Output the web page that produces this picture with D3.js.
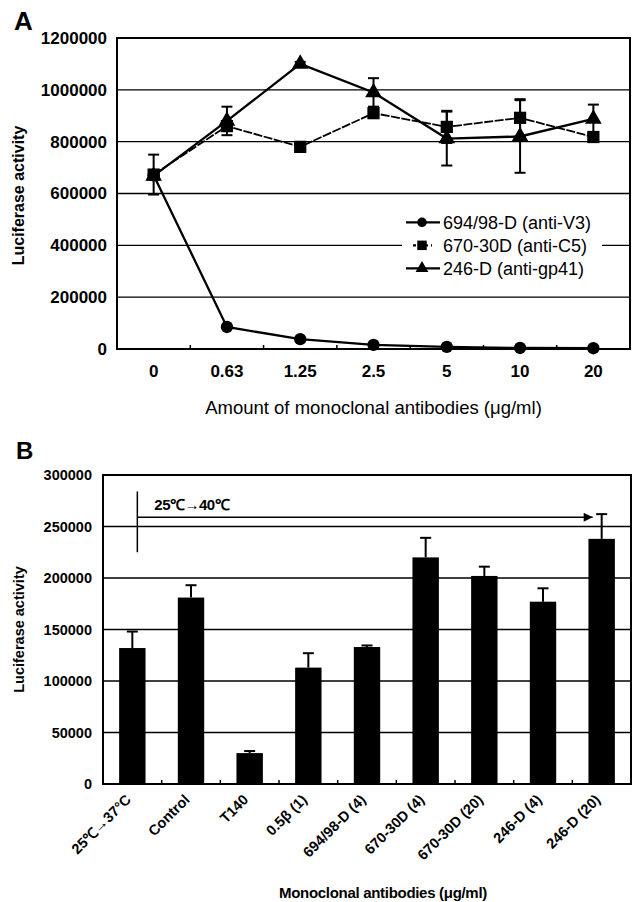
<!DOCTYPE html>
<html lang="en">
<head>
  <meta charset="UTF-8">
  <title>Luciferase activity</title>
  <script src="https://d3js.org/d3.v7.min.js"></script>
  <style>
    body {
      margin: 0;
      background: #fff;
    }
    svg text {
      font-family: 'Liberation Sans', Arial, sans-serif;
      fill: #000;
    }
    .tick-a text {
      font-size: 17px;
      font-weight: bold;
    }
    .tick-b text {
      font-size: 14.5px;
      font-weight: bold;
    }
    .grid {
      stroke: #000;
      stroke-width: 1.4;
    }
  </style>
</head>
<body>
  <svg id="chart" width="637" height="902"></svg>

  <script>
    // ---- Panel A : dose response ----
    const dosesA = ["0", "0.63", "1.25", "2.5", "5", "10", "20"];
    const seriesNamesA = ["694/98-D (anti-V3)", "670-30D (anti-C5)", "246-D (anti-gp41)"];
    const v3Values   = [670000, 85000, 38000, 16000, 8000, 4000, 3000];
    const v3Errors   = [0, 0, 0, 0, 0, 0, 0];
    const c5Values   = [673000, 860000, 780000, 910000, 857000, 892000, 818000];
    const c5Errors   = [77000, 0, 10000, 15000, 62000, 72000, 12000];
    const gp41Values = [668000, 880000, 1100000, 990000, 812000, 820000, 888000];
    const gp41Errors = [0, 55000, 8000, 55000, 104000, 140000, 55000];
    const yTicksA = [0, 200000, 400000, 600000, 800000, 1000000, 1200000];

    // ---- Panel B : bars ----
    const groupsB = ["25℃→37°C", "Control", "T140", "0.5β (1)", "694/98-D (4)",
                     "670-30D (4)", "670-30D (20)", "246-D (4)", "246-D (20)"];
    const meansB  = [132000, 181000, 30000, 113000, 133000, 220000, 202000, 177000, 238000];
    const errorsB = [16000, 12000, 2000, 14000, 1500, 19000, 9000, 13000, 24000];
    const yTicksB = [0, 50000, 100000, 150000, 200000, 250000, 300000];
    const shiftLabel = "25℃→40℃";
    const shiftTop = 284000, shiftBottom = 225000, shiftArrow = 259000, shiftText = 266000;

    const svg = d3.select("#chart");
    const defs = svg.append("defs");
    defs.append("marker")
      .attr("id", "arrow")
      .attr("viewBox", "0 0 10 10")
      .attr("refX", 10).attr("refY", 5)
      .attr("markerWidth", 7).attr("markerHeight", 6)
      .attr("orient", "auto")
      .attr("markerUnits", "strokeWidth")
      .append("path").attr("d", "M0,0L10,5L0,10Z").attr("fill", "#000");

    // ================= Panel A =================
    const A = { left: 117, right: 630, top: 38, bottom: 349 };
    const xA = d3.scaleBand().domain(dosesA).range([A.left, A.right]);
    const yA = d3.scaleLinear().domain([0, 1200000]).range([A.bottom, A.top]);
    const cxA = d => xA(d) + xA.bandwidth() / 2;

    const gA = svg.append("g");

    gA.append("text").attr("x", 14).attr("y", 30)
      .style("font-size", "26px").style("font-weight", "bold").text("A");

    gA.selectAll(".grid-a").data(yTicksA.slice(1, -1)).enter()
      .append("line").attr("class", "grid")
      .attr("x1", A.left).attr("x2", A.right)
      .attr("y1", d => yA(d)).attr("y2", d => yA(d));

    gA.append("g").attr("class", "tick-a")
      .attr("transform", `translate(${A.left},0)`)
      .call(d3.axisLeft(yA).tickValues(yTicksA).tickSize(0).tickPadding(10).tickFormat(d3.format("d")))
      .call(g => g.select(".domain").remove());

    gA.append("g").attr("class", "tick-a")
      .attr("transform", `translate(0,${A.bottom})`)
      .call(d3.axisBottom(xA).tickSize(0).tickPadding(16))
      .call(g => g.select(".domain").remove());

    // small ticks between categories
    gA.selectAll(".xtick-a").data(d3.range(1, dosesA.length)).enter()
      .append("line")
      .attr("x1", i => A.left + i * xA.step()).attr("x2", i => A.left + i * xA.step())
      .attr("y1", A.bottom).attr("y2", A.bottom - 4)
      .attr("stroke", "#000").attr("stroke-width", 1.5);

    gA.append("text")
      .attr("transform", `translate(24,${(A.top + A.bottom) / 2 + 2}) rotate(-90)`)
      .attr("text-anchor", "middle")
      .style("font-size", "16px").style("font-weight", "bold")
      .text("Luciferase activity");

    gA.append("text")
      .attr("x", (A.left + A.right) / 2).attr("y", 414)
      .attr("text-anchor", "middle")
      .style("font-size", "18.5px")
      .text("Amount of monoclonal antibodies (μg/ml)");

    const seriesA = [
      { name: seriesNamesA[0], values: v3Values, errors: v3Errors, shape: d3.symbolCircle, size: 120, dash: null },
      { name: seriesNamesA[1], values: c5Values, errors: c5Errors, shape: d3.symbolSquare, size: 150, dash: "9,1.5" },
      { name: seriesNamesA[2], values: gp41Values, errors: gp41Errors, shape: d3.symbolTriangle, size: 120, dash: null }
    ];

    const line = d3.line().x((v, i) => cxA(dosesA[i])).y(v => yA(v));

    seriesA.forEach(s => {
      gA.append("path").datum(s.values)
        .attr("d", line).attr("fill", "none")
        .attr("stroke", "#000").attr("stroke-width", s.dash ? 1.8 : 2.3)
        .attr("stroke-dasharray", s.dash);
    });

    seriesA.forEach(s => {
      const pts = s.values.map((v, i) => ({ x: cxA(dosesA[i]), v, e: s.errors[i] })).filter(p => p.e > 0);
      const eg = gA.append("g").attr("stroke", "#000").attr("stroke-width", 2);
      eg.selectAll(".ev").data(pts).enter().append("line")
        .attr("x1", p => p.x).attr("x2", p => p.x)
        .attr("y1", p => yA(p.v - p.e)).attr("y2", p => yA(p.v + p.e));
      eg.selectAll(".ec-top").data(pts).enter().append("line")
        .attr("x1", p => p.x - 5.5).attr("x2", p => p.x + 5.5)
        .attr("y1", p => yA(p.v + p.e)).attr("y2", p => yA(p.v + p.e));
      eg.selectAll(".ec-bot").data(pts).enter().append("line")
        .attr("x1", p => p.x - 5.5).attr("x2", p => p.x + 5.5)
        .attr("y1", p => yA(p.v - p.e)).attr("y2", p => yA(p.v - p.e));
    });

    seriesA.forEach(s => {
      gA.selectAll(null).data(s.values).enter()
        .append("path")
        .attr("d", d3.symbol().type(s.shape).size(s.size))
        .attr("transform", (v, i) => `translate(${cxA(dosesA[i])},${yA(v)})`)
        .attr("fill", "#000");
    });

    // legend
    const legX = 402, legY0 = yA(400000) - 23, legStep = 23;
    gA.append("rect").attr("x", legX).attr("y", legY0 - 13)
      .attr("width", 200).attr("height", legStep * 3 + 3).attr("fill", "#fff");
    seriesA.forEach((s, i) => {
      const ly = legY0 + i * legStep;
      gA.append("line")
        .attr("x1", s.dash ? legX + 11 : legX + 4).attr("x2", s.dash ? legX + 30 : legX + 38)
        .attr("y1", ly).attr("y2", ly)
        .attr("stroke", "#000").attr("stroke-width", 2.3)
        .attr("stroke-dasharray", s.dash ? "3,3" : null);
      gA.append("path").attr("d", d3.symbol().type(s.shape).size(s.size * 0.6))
        .attr("transform", `translate(${legX + 20},${ly})`).attr("fill", "#000");
      gA.append("text").attr("x", legX + 41).attr("y", ly).attr("dy", "0.36em")
        .style("font-size", "18px").text(s.name);
    });

    gA.append("rect").attr("x", A.left).attr("y", A.top)
      .attr("width", A.right - A.left).attr("height", A.bottom - A.top)
      .attr("fill", "none").attr("stroke", "#000").attr("stroke-width", 2);

    // ================= Panel B =================
    const B = { left: 103, right: 631, top: 475, bottom: 784 };
    const xB = d3.scaleBand().domain(groupsB).range([B.left, B.right])
      .paddingInner(0.55).paddingOuter(0.275);
    const yB = d3.scaleLinear().domain([0, 300000]).range([B.bottom, B.top]);
    const cxB = d => xB(d) + xB.bandwidth() / 2;

    const gB = svg.append("g");

    gB.append("text").attr("x", 16).attr("y", 459)
      .style("font-size", "24px").style("font-weight", "bold").text("B");

    gB.selectAll(".grid-b").data(yTicksB.slice(1, -1)).enter()
      .append("line").attr("class", "grid")
      .attr("x1", B.left).attr("x2", B.right)
      .attr("y1", d => yB(d)).attr("y2", d => yB(d));

    gB.append("g").attr("class", "tick-b")
      .attr("transform", `translate(${B.left},0)`)
      .call(d3.axisLeft(yB).tickValues(yTicksB).tickSize(0).tickPadding(11).tickFormat(d3.format("d")))
      .call(g => g.select(".domain").remove());

    gB.selectAll(".xtick-b").data(d3.range(1, groupsB.length)).enter()
      .append("line")
      .attr("x1", i => B.left + i * xB.step()).attr("x2", i => B.left + i * xB.step())
      .attr("y1", B.bottom).attr("y2", B.bottom - 4)
      .attr("stroke", "#000").attr("stroke-width", 1.5);

    // error whiskers (upper only, bar hides the rest)
    const eb = gB.append("g").attr("stroke", "#000").attr("stroke-width", 2);
    eb.selectAll(".ev").data(groupsB).enter().append("line")
      .attr("x1", d => cxB(d)).attr("x2", d => cxB(d))
      .attr("y1", (d, i) => yB(meansB[i])).attr("y2", (d, i) => yB(meansB[i] + errorsB[i]));
    eb.selectAll(".ec").data(groupsB).enter().append("line")
      .attr("x1", d => cxB(d) - 5.5).attr("x2", d => cxB(d) + 5.5)
      .attr("y1", (d, i) => yB(meansB[i] + errorsB[i])).attr("y2", (d, i) => yB(meansB[i] + errorsB[i]));

    gB.selectAll(".bar").data(groupsB).enter().append("rect")
      .attr("x", d => xB(d)).attr("width", xB.bandwidth())
      .attr("y", (d, i) => yB(meansB[i]))
      .attr("height", (d, i) => B.bottom - yB(meansB[i]))
      .attr("fill", "#000");

    gB.selectAll(".xlab").data(groupsB).enter().append("text")
      .attr("transform", d => `translate(${cxB(d) - 4},${B.bottom + 13}) rotate(-45)`)
      .attr("text-anchor", "end").attr("dy", "0.35em")
      .style("font-size", "14.5px").style("font-weight", "bold")
      .text(d => d);

    gB.append("text")
      .attr("transform", `translate(24,${(B.top + B.bottom) / 2}) rotate(-90)`)
      .attr("text-anchor", "middle")
      .style("font-size", "14.5px").style("font-weight", "bold")
      .text("Luciferase activity");

    gB.append("text")
      .attr("x", 383).attr("y", 898)
      .attr("text-anchor", "middle")
      .style("font-size", "15px").style("font-weight", "bold").style("letter-spacing", "-0.3px")
      .text("Monoclonal antibodies (μg/ml)");

    // temperature shift annotation
    const shiftX0 = cxB(groupsB[0]) + 5;
    const shiftX1 = cxB(groupsB[groupsB.length - 1]) - 9;
    gB.append("line")
      .attr("x1", shiftX0).attr("x2", shiftX0)
      .attr("y1", yB(shiftTop)).attr("y2", yB(shiftBottom))
      .attr("stroke", "#000").attr("stroke-width", 1.5);
    gB.append("line")
      .attr("x1", shiftX0).attr("x2", shiftX1)
      .attr("y1", yB(shiftArrow)).attr("y2", yB(shiftArrow))
      .attr("stroke", "#000").attr("stroke-width", 1.5)
      .attr("marker-end", "url(#arrow)");
    gB.append("text")
      .attr("x", shiftX0 + 17).attr("y", yB(shiftText))
      .style("font-size", "15px").style("font-weight", "bold").style("letter-spacing", "-0.5px")
      .text(shiftLabel);

    gB.append("rect").attr("x", B.left).attr("y", B.top)
      .attr("width", B.right - B.left).attr("height", B.bottom - B.top)
      .attr("fill", "none").attr("stroke", "#000").attr("stroke-width", 2);
  </script>
</body>
</html>
